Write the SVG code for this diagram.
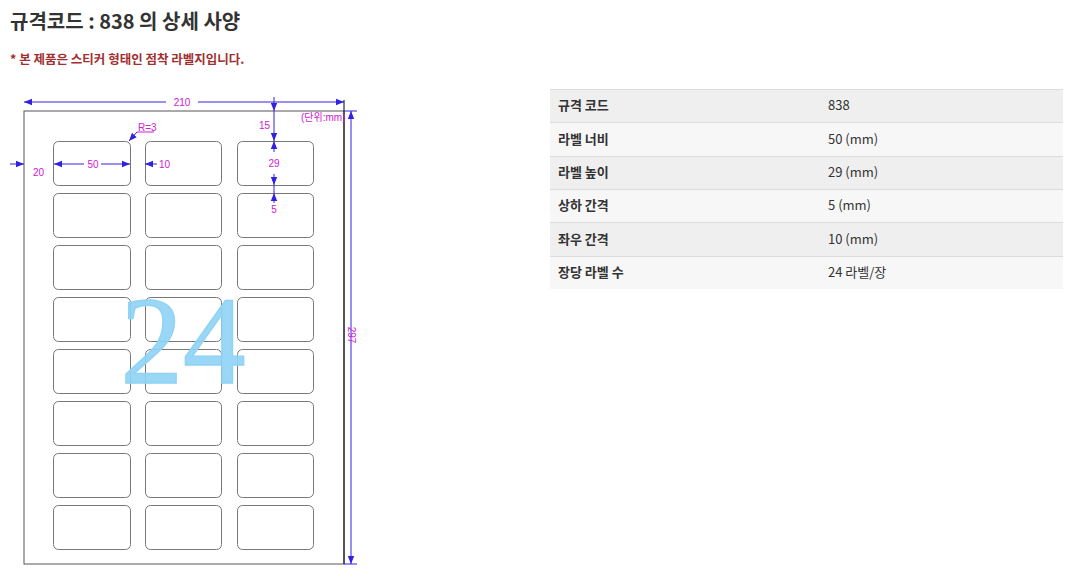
<svg xmlns="http://www.w3.org/2000/svg" width="1081" height="581" viewBox="0 0 1081 581">
<defs>
<marker id="a" viewBox="0 0 10 10" refX="10" refY="5" markerWidth="8" markerHeight="8" markerUnits="userSpaceOnUse" orient="auto-start-reverse"><path d="M0,1 L10,5 L0,9 Z" fill="#3322dd"/></marker>
<style>
.t{font-family:"Noto Sans CJK KR","Noto Sans",sans-serif}
.d{stroke:#3322dd;stroke-width:1;fill:none}
.m{font-family:"Liberation Sans","Noto Sans CJK KR",sans-serif;font-size:10px;fill:#d020d0}
.l{fill:#fff;stroke:#777;stroke-width:1}
.r1{fill:#efefef}.r2{fill:#f7f7f7}
.c{font-size:13px;fill:#333}
</style>
</defs>
<rect width="1081" height="581" fill="#fff"/>
<text class="t" x="10" y="29" font-size="20" font-weight="bold" fill="#333">규격코드 : 838 의 상세 사양</text>
<text class="t" x="10" y="64" font-size="12.5" font-weight="bold" fill="#a03030">* 본 제품은 스티커 형태인 점착 라벨지입니다.</text>
<g id="page">
<rect x="24" y="111" width="320" height="453" fill="#fff" stroke="#555" stroke-width="1"/>
<g id="labels">
<rect class="l" x="53.5" y="141.5" width="77" height="44" rx="5"/><rect class="l" x="145.5" y="141.5" width="76" height="44" rx="5"/><rect class="l" x="237.5" y="141.5" width="76" height="44" rx="5"/>
<rect class="l" x="53.5" y="193.5" width="77" height="44" rx="5"/><rect class="l" x="145.5" y="193.5" width="76" height="44" rx="5"/><rect class="l" x="237.5" y="193.5" width="76" height="44" rx="5"/>
<rect class="l" x="53.5" y="245.5" width="77" height="44" rx="5"/><rect class="l" x="145.5" y="245.5" width="76" height="44" rx="5"/><rect class="l" x="237.5" y="245.5" width="76" height="44" rx="5"/>
<rect class="l" x="53.5" y="297.5" width="77" height="44" rx="5"/><rect class="l" x="145.5" y="297.5" width="76" height="44" rx="5"/><rect class="l" x="237.5" y="297.5" width="76" height="44" rx="5"/>
<rect class="l" x="53.5" y="349.5" width="77" height="44" rx="5"/><rect class="l" x="145.5" y="349.5" width="76" height="44" rx="5"/><rect class="l" x="237.5" y="349.5" width="76" height="44" rx="5"/>
<rect class="l" x="53.5" y="401.5" width="77" height="44" rx="5"/><rect class="l" x="145.5" y="401.5" width="76" height="44" rx="5"/><rect class="l" x="237.5" y="401.5" width="76" height="44" rx="5"/>
<rect class="l" x="53.5" y="453.5" width="77" height="44" rx="5"/><rect class="l" x="145.5" y="453.5" width="76" height="44" rx="5"/><rect class="l" x="237.5" y="453.5" width="76" height="44" rx="5"/>
<rect class="l" x="53.5" y="505.5" width="77" height="44" rx="5"/><rect class="l" x="145.5" y="505.5" width="76" height="44" rx="5"/><rect class="l" x="237.5" y="505.5" width="76" height="44" rx="5"/>
</g>
<line x1="344" y1="100" x2="344" y2="564" stroke="#000"/>
<text x="183" y="383" text-anchor="middle" font-family="Liberation Serif,serif" font-size="125" fill="#8fd3f5" stroke="#8fd3f5" stroke-width="1.5" fill-opacity="0.9">24</text>
</g>
<g id="dims">
<line class="d" x1="24" y1="102" x2="166" y2="102" marker-start="url(#a)"/>
<line class="d" x1="198" y1="102" x2="344" y2="102" marker-end="url(#a)"/>
<text class="m" x="182" y="106" text-anchor="middle">210</text>
<line class="d" x1="274" y1="97" x2="274" y2="111" marker-end="url(#a)"/>
<line class="d" x1="274" y1="111" x2="274" y2="141" marker-end="url(#a)"/>
<text class="m" x="259" y="129">15</text>
<line class="d" x1="274" y1="152" x2="274" y2="141" marker-end="url(#a)"/>
<line class="d" x1="274" y1="174" x2="274" y2="185" marker-end="url(#a)"/>
<text class="m" x="274" y="167" text-anchor="middle">29</text>
<line class="d" x1="274" y1="185" x2="274" y2="193"/>
<line class="d" x1="274" y1="203" x2="274" y2="193" marker-end="url(#a)"/>
<text class="m" x="274" y="213" text-anchor="middle">5</text>
<line class="d" x1="10" y1="164" x2="24" y2="164" marker-end="url(#a)"/>
<text class="m" x="33" y="176">20</text>
<line class="d" x1="84" y1="164" x2="54" y2="164" marker-end="url(#a)"/>
<line class="d" x1="101" y1="164" x2="130" y2="164" marker-end="url(#a)"/>
<text class="m" x="93" y="168" text-anchor="middle">50</text>
<line class="d" x1="157" y1="164" x2="145" y2="164" marker-end="url(#a)"/>
<text class="m" x="159" y="168">10</text>
<text class="m" x="138" y="131">R=3</text>
<line x1="137" y1="132" x2="154" y2="132" stroke="#d020d0"/>
<line class="d" x1="137" y1="132" x2="129" y2="141" marker-end="url(#a)"/>
<text class="m" x="301" y="121">(단위:mm)</text>
<line class="d" x1="351" y1="121" x2="351" y2="111" marker-end="url(#a)"/>
<line class="d" x1="351" y1="121" x2="351" y2="564" marker-end="url(#a)"/>
<line x1="344" y1="564" x2="357" y2="564" stroke="#3322dd"/>
<line x1="344" y1="111" x2="357" y2="111" stroke="#3322dd"/>
<text class="m" x="0" y="0" transform="translate(348,335) rotate(90)" text-anchor="middle">297</text>
</g>
<g id="table" class="t">
<rect class="r1" x="550" y="89" width="513" height="33"/>
<rect class="r2" x="550" y="122" width="513" height="34"/>
<rect class="r1" x="550" y="156" width="513" height="33"/>
<rect class="r2" x="550" y="189" width="513" height="33"/>
<rect class="r1" x="550" y="222" width="513" height="34"/>
<rect class="r2" x="550" y="256" width="513" height="33"/>
<g stroke="#dcdcdc"><line x1="550" y1="89.5" x2="1063" y2="89.5"/><line x1="550" y1="122.5" x2="1063" y2="122.5"/><line x1="550" y1="156.5" x2="1063" y2="156.5"/><line x1="550" y1="189.5" x2="1063" y2="189.5"/><line x1="550" y1="222.5" x2="1063" y2="222.5"/><line x1="550" y1="256.5" x2="1063" y2="256.5"/></g>
<text class="c" x="558" y="110" font-weight="bold">규격 코드</text><text class="c" x="828" y="110">838</text>
<text class="c" x="558" y="144" font-weight="bold">라벨 너비</text><text class="c" x="828" y="144">50 (mm)</text>
<text class="c" x="558" y="177" font-weight="bold">라벨 높이</text><text class="c" x="828" y="177">29 (mm)</text>
<text class="c" x="558" y="210" font-weight="bold">상하 간격</text><text class="c" x="828" y="210">5 (mm)</text>
<text class="c" x="558" y="244" font-weight="bold">좌우 간격</text><text class="c" x="828" y="244">10 (mm)</text>
<text class="c" x="558" y="277" font-weight="bold">장당 라벨 수</text><text class="c" x="828" y="277">24 라벨/장</text>
</g>
</svg>
